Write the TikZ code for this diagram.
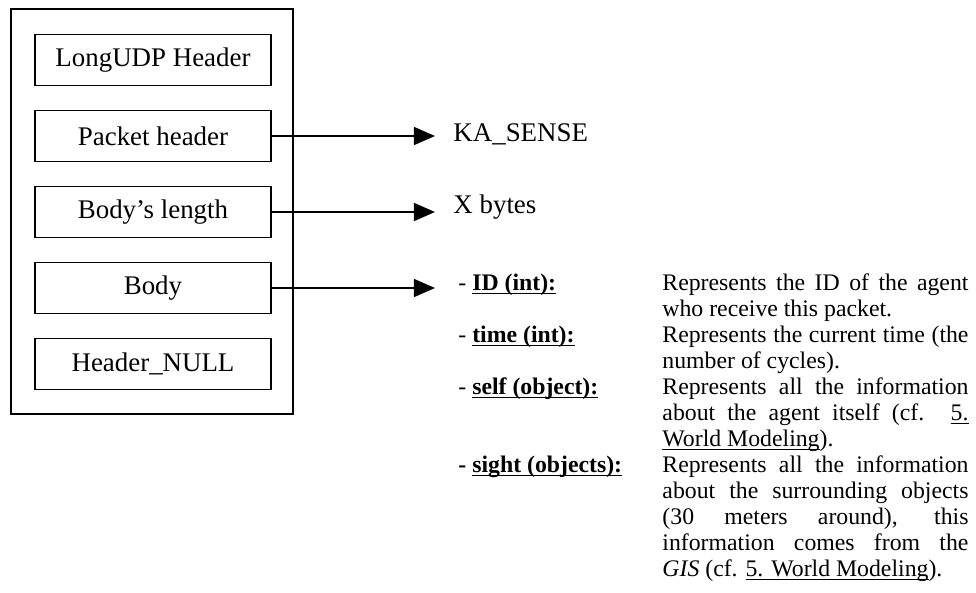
\documentclass[tikz,border=0pt]{standalone}
\usepackage{fontspec}
\setmainfont{Liberation Serif}
\usetikzlibrary{arrows.meta}
\newcommand\ulin[1]{\underline{\smash{#1}}}

\tikzset{
  field/.style={draw, line width=0.8pt, minimum width=105.3pt, minimum height=22.7pt, inner sep=0pt, font=\fontsize{12}{14}\selectfont},
  arr/.style={line width=0.8pt, -{Triangle[length=9.4pt,width=8pt]}},
  lbl/.style={anchor=base west, inner sep=0pt, font=\fontsize{12}{14}\selectfont},
  tag/.style={anchor=base west, inner sep=0pt, font=\fontsize{10.6}{11.6}\selectfont},
  desc/.style={anchor=base west, inner sep=0pt, text width=136.5pt, align=justify, font=\fontsize{10.6}{11.6}\selectfont},
}

\begin{document}
\begin{tikzpicture}[x=0.446pt, y=-0.446pt]
\useasboundingbox (0,0) rectangle (976,593);
\draw[line width=0.8pt] (11,9) rectangle (293,414);
\node[field] (udp) at (153,60) {LongUDP Header};
\node[field] (pkt) at (153,136) {Packet header};
\node[field] (len) at (153,212) {Body's length};
\node[field] (body) at (153,288) {Body};
\node[field] (null) at (153,364) {Header\_NULL};
\coordinate (tpkt) at (435,136);
\coordinate (tlen) at (435,212);
\coordinate (tbody) at (435,288);
\draw[arr] (pkt.east) -- (tpkt);
\draw[arr] (len.east) -- (tlen);
\draw[arr] (body.east) -- (tbody);
\node[lbl] (ka) at (453,141) {KA\_SENSE};
\node[lbl] (xb) at (453,213) {X bytes};
% fields of the body
\node[tag] (lid) at (458,290) {-~\ulin{\textbf{ID (int):}}};
\node[desc] (did) at (662,290) {Represents the ID of the agent\linebreak who receive this packet.};
\node[tag] (ltime) at (458,342) {-~\ulin{\textbf{time (int):}}};
\node[desc] (dtime) at (662,342) {Represents the current time (the\linebreak number of cycles).};
\node[tag] (lself) at (458,394) {-~\ulin{\textbf{self (object):}}};
\node[desc] (dself) at (662,394) {Represents all the information\linebreak about the agent itself (cf. \ulin{5.}\linebreak \ulin{World Modeling}).};
\node[tag] (lsight) at (458,472) {\textbf{-}~\ulin{\textbf{sight (objects):}}};
\node[desc] (dsight) at (662,472) {Represents all the information\linebreak about the surrounding objects\linebreak (30 meters around), this\linebreak information comes from the\linebreak \textit{GIS} (cf. \ulin{5. World Modeling}).};
\end{tikzpicture}
\end{document}
